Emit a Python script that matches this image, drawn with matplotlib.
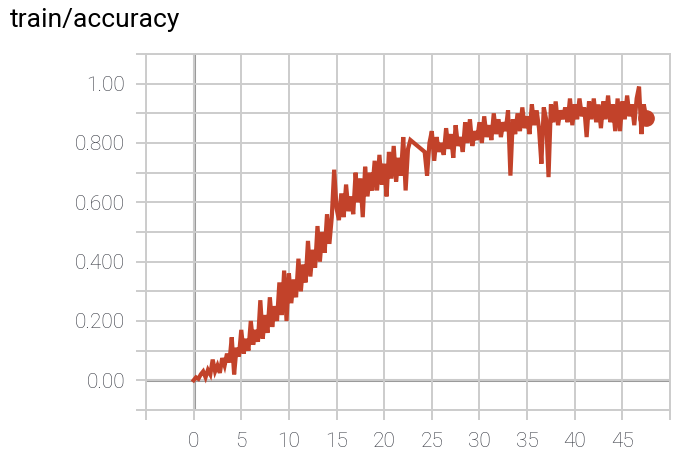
import numpy as np
import matplotlib.pyplot as plt

steps_a = np.arange(0, 23, 0.25)
acc_a = [
    0.00, 0.01, 0.005, 0.02,
    0.03, 0.01, 0.035, 0.02,
    0.07, 0.03, 0.05, 0.025,
    0.075, 0.05, 0.09, 0.06,
    0.145, 0.02, 0.11, 0.08,
    0.17, 0.09, 0.14, 0.10,
    0.20, 0.12, 0.17, 0.13,
    0.27, 0.14, 0.22, 0.16,
    0.28, 0.18, 0.25, 0.20,
    0.33, 0.22, 0.37, 0.20,
    0.36, 0.26, 0.34, 0.28,
    0.41, 0.30, 0.39, 0.33,
    0.47, 0.35, 0.44, 0.38,
    0.52, 0.40, 0.50, 0.43,
    0.56, 0.46, 0.55, 0.71,
    0.58, 0.54, 0.63, 0.55,
    0.66, 0.57, 0.62, 0.56,
    0.70, 0.60, 0.68, 0.55,
    0.72, 0.62, 0.70, 0.64,
    0.74, 0.64, 0.76, 0.66,
    0.73, 0.62, 0.77, 0.68,
    0.79, 0.67, 0.75, 0.69,
    0.82, 0.64, 0.78, 0.81,
]
steps_b = np.arange(24.25, 47.75, 0.25)
acc_b = [
    0.77, 0.69, 0.80,
    0.84, 0.74, 0.82, 0.77,
    0.80, 0.76, 0.85, 0.78,
    0.83, 0.75, 0.86, 0.79,
    0.82, 0.77, 0.87, 0.80,
    0.88, 0.79, 0.84, 0.81,
    0.87, 0.80, 0.89, 0.82,
    0.86, 0.81, 0.90, 0.83,
    0.88, 0.82, 0.87, 0.84,
    0.91, 0.69, 0.88, 0.83,
    0.90, 0.84, 0.92, 0.85,
    0.89, 0.83, 0.93, 0.86,
    0.91, 0.85, 0.73, 0.92,
    0.88, 0.685, 0.93, 0.87,
    0.94, 0.86, 0.91, 0.88,
    0.92, 0.87, 0.95, 0.86,
    0.93, 0.88, 0.95, 0.89,
    0.92, 0.82, 0.94, 0.88,
    0.95, 0.87, 0.93, 0.85,
    0.94, 0.88, 0.96, 0.87,
    0.93, 0.84, 0.95, 0.84,
    0.94, 0.88, 0.96, 0.89,
    0.93, 0.86, 0.95, 0.99,
    0.83, 0.93, 0.885,
]

x_ticks = np.arange(-5, 51, 5)
x_labels = ['' if t < 0 or t > 45 else str(t) for t in x_ticks]
y_ticks = np.round(np.arange(-0.1, 1.11, 0.1), 1)
y_label_map = {1.0: '1.00', 0.8: '0.800', 0.6: '0.600', 0.4: '0.400', 0.2: '0.200', 0.0: '0.00'}
y_labels = [y_label_map.get(t, '') for t in y_ticks]

line_color = '#c2422a'
grid_color = '#cccccc'
text_color = '#33363f'

plt.rcParams['font.family'] = ['Roboto', 'DejaVu Sans']

fig = plt.figure(figsize=(6.88, 4.62), dpi=100)
ax = fig.add_axes([146 / 688, 1 - 410 / 462, (670 - 146) / 688, (410 - 54) / 462])

steps = np.concatenate([steps_a, steps_b])
acc = np.concatenate([acc_a, acc_b])
ax.plot(steps, acc, color=line_color, lw=3.0, solid_joinstyle='miter', zorder=3)
ax.plot(steps[-1:], acc[-1:], 'o', color=line_color, ms=11, zorder=4)

ax.set_xlim(-5, 50)
ax.set_ylim(-0.1, 1.1)
ax.set_xticks(x_ticks)
ax.set_xticklabels(x_labels)
ax.set_yticks(y_ticks)
ax.set_yticklabels(y_labels)

ax.grid(True, color=grid_color, lw=1.4, zorder=0)
ax.axhline(0, color='#9a9a9a', lw=2.2, zorder=1)
ax.axvline(0, color='#9a9a9a', lw=2.2, zorder=1)
for s in ax.spines.values():
    s.set_color(grid_color)
    s.set_linewidth(1.4)

ax.tick_params(axis='both', colors=grid_color, width=1.4, length=7,
               labelcolor=text_color, labelsize=15)
ax.tick_params(axis='y', pad=8)
ax.tick_params(axis='x', pad=9)
for lbl in ax.get_xticklabels() + ax.get_yticklabels():
    lbl.set_fontweight('light')

fig.text(10 / 688, 1 - 20 / 462, 'train/accuracy', fontsize=19, color='black',
         ha='left', va='center')

fig.savefig('out.png', dpi=100)
